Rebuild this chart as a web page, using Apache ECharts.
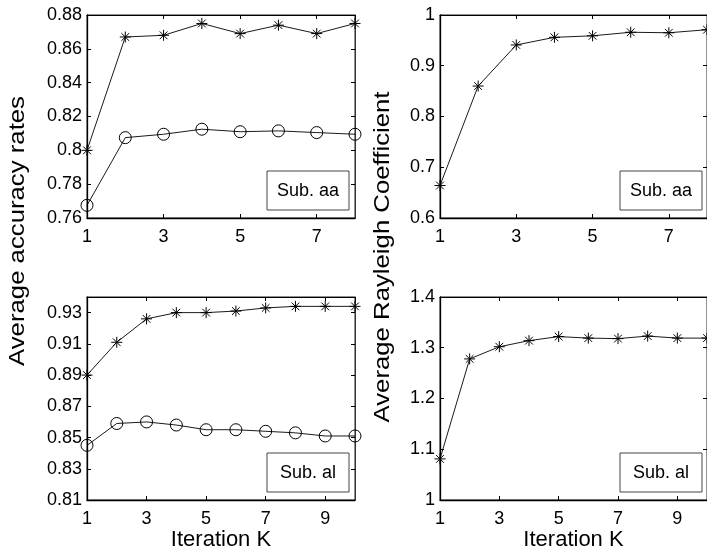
<!DOCTYPE html>
<html>
<head>
<meta charset="utf-8">
<title>Iteration K</title>
<script src="https://cdn.jsdelivr.net/npm/echarts@6/dist/echarts.min.js"></script>
<style>
html, body { margin: 0; padding: 0; background: #fff; overflow: hidden; }
#main { width: 707px; height: 555px; }
</style>
</head>
<body>
<div id="main"></div>
<script>
// iterations
var iterAa = [1, 2, 3, 4, 5, 6, 7, 8];
var iterAl = [1, 2, 3, 4, 5, 6, 7, 8, 9, 10];
// Sub. aa - accuracy (stars / circles) and rayleigh coefficient
var accAaStar = [0.800, 0.867, 0.868, 0.875, 0.869, 0.874, 0.869, 0.875];
var accAaCircle = [0.7675, 0.8075, 0.8095, 0.8125, 0.811, 0.8115, 0.8105, 0.8095];
var rayAa = [0.664, 0.860, 0.941, 0.956, 0.959, 0.966, 0.965, 0.971];
// Sub. al
var accAlStar = [0.890, 0.911, 0.926, 0.930, 0.930, 0.931, 0.933, 0.934, 0.934, 0.934];
var accAlCircle = [0.845, 0.859, 0.860, 0.858, 0.855, 0.855, 0.854, 0.853, 0.851, 0.851];
var rayAl = [1.081, 1.278, 1.302, 1.314, 1.322, 1.319, 1.318, 1.323, 1.319, 1.319];

var FONT = "'Liberation Sans', Arial, Helvetica, sans-serif";
var STAR = "path://M5 0L5 10M0 5L10 5M1.5 1.5L8.5 8.5M1.5 8.5L8.5 1.5";

function pairs(xs, ys) {
  return xs.map(function (x, i) { return [x, ys[i]]; });
}

// 4 panels: [left, top]
var panels = [
  { left: 87, top: 15, xmax: 8, ymin: 0.76, ymax: 0.88, step: 0.02, name: "", label: "Sub. aa" },
  { left: 440, top: 15, xmax: 8, ymin: 0.6, ymax: 1, step: 0.1, name: "", label: "Sub. aa" },
  { left: 87, top: 297, xmax: 10, ymin: 0.81, ymax: 0.94, step: 0.02, name: "Iteration K", label: "Sub. al" },
  { left: 440, top: 297, xmax: 10, ymin: 1, ymax: 1.4, step: 0.1, name: "Iteration K", label: "Sub. al" }
];
var W = 268, H = 203;

var grids = [], xAxes = [], yAxes = [], graphics = [];
panels.forEach(function (p, i) {
  grids.push({
    left: p.left, top: p.top, width: W, height: H,
    show: true, borderColor: "#222", borderWidth: 1, backgroundColor: "#fff"
  });
  // bottom axis with labels
  xAxes.push({
    type: "value", gridIndex: i, position: "bottom", min: 1, max: p.xmax, interval: 2,
    name: p.name, nameLocation: "middle", nameGap: 16,
    nameTextStyle: { fontFamily: FONT, fontSize: 22, color: "#000" },
    axisLine: { onZero: false, lineStyle: { color: "#000", width: 1.3 } },
    axisTick: { inside: true, length: 4, lineStyle: { color: "#000" } },
    axisLabel: { showMaxLabel: false, margin: 10, fontFamily: FONT, fontSize: 18, color: "#000" },
    splitLine: { show: false }
  });
  // top axis, ticks only
  xAxes.push({
    type: "value", gridIndex: i, position: "top", min: 1, max: p.xmax, interval: 2,
    axisLine: { onZero: false, lineStyle: { color: "#000", width: 1.2 } },
    axisTick: { inside: true, length: 4, lineStyle: { color: "#000" } },
    axisLabel: { show: false },
    splitLine: { show: false }
  });
  yAxes.push({
    type: "value", gridIndex: i, position: "left", min: p.ymin, max: p.ymax, interval: p.step,
    axisLine: { onZero: false, lineStyle: { color: "#000", width: 1.3 } },
    axisTick: { inside: true, length: 4, lineStyle: { color: "#000" } },
    axisLabel: { showMaxLabel: p.ymax !== 0.94, margin: 5, fontFamily: FONT, fontSize: 18, color: "#000" },
    splitLine: { show: false }
  });
  yAxes.push({
    type: "value", gridIndex: i, position: "right", min: p.ymin, max: p.ymax, interval: p.step,
    axisLine: { onZero: false, lineStyle: { color: "#333", width: 1 } },
    axisTick: { inside: true, length: 4, lineStyle: { color: "#000" } },
    axisLabel: { show: false },
    splitLine: { show: false }
  });
  // the "Sub. xx" box
  var bx = p.left + 180, by = p.top + 156;
  graphics.push({
    type: "group", z: 100,
    children: [
      { type: "rect", shape: { x: bx, y: by, width: 82, height: 39 },
        style: { fill: "#fff", stroke: "#444", lineWidth: 1 } },
      { type: "text", x: bx + 41, y: by + 20,
        style: { text: p.label, font: "18px " + FONT, fill: "#000", align: "center", verticalAlign: "middle" } }
    ]
  });
});

// shared y titles (the original figure is a bit stretched vertically)
graphics.push({
  type: "text", x: 18, y: 231, rotation: Math.PI / 2, scaleX: 1.17,
  style: { text: "Average accuracy rates", font: "22px " + FONT, fill: "#000", align: "center", verticalAlign: "middle" }
});
graphics.push({
  type: "text", x: 383, y: 257, rotation: Math.PI / 2, scaleX: 1.17,
  style: { text: "Average Rayleigh Coefficient", font: "22px " + FONT, fill: "#000", align: "center", verticalAlign: "middle" }
});

function line(gi, data, symbol, size) {
  return {
    type: "line", xAxisIndex: gi * 2, yAxisIndex: gi * 2, data: data,
    symbol: symbol, symbolSize: size, showAllSymbol: true, clip: false, silent: true,
    lineStyle: { color: "#000", width: 0.9 },
    itemStyle: { color: "none", borderColor: "#000", borderWidth: 1 },
    animation: false, z: 3
  };
}

var myChart = echarts.init(document.getElementById("main"));
var option = {
  animation: false,
  grid: grids,
  xAxis: xAxes,
  yAxis: yAxes,
  graphic: graphics,
  series: [
    line(0, pairs(iterAa, accAaStar), STAR, 11),
    line(0, pairs(iterAa, accAaCircle), "circle", 12),
    line(1, pairs(iterAa, rayAa), STAR, 11),
    line(2, pairs(iterAl, accAlStar), STAR, 11),
    line(2, pairs(iterAl, accAlCircle), "circle", 12),
    line(3, pairs(iterAl, rayAl), STAR, 11)
  ]
};
myChart.setOption(option);
</script>
</body>
</html>
